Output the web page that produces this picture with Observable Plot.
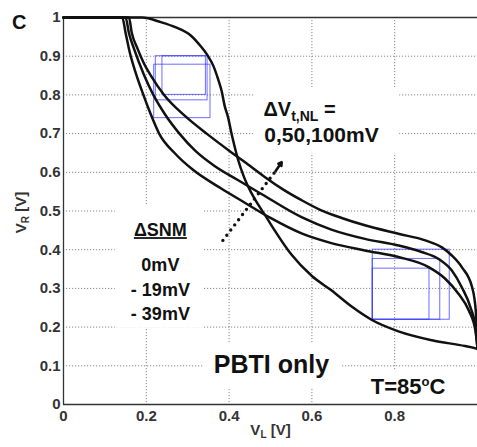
<!DOCTYPE html>
<html><head><meta charset="utf-8">
<script src="https://cdn.jsdelivr.net/npm/d3@7"></script>
<script src="https://cdn.jsdelivr.net/npm/@observablehq/plot@0.6"></script>
<style>body{margin:0;background:#fff} svg{display:block}</style>
</head><body><div id="chart"></div>
<script>
// ---- data ----
const xTicks = [0, 0.2, 0.4, 0.6, 0.8];
const yTicks = [0, 0.1, 0.2, 0.3, 0.4, 0.5, 0.6, 0.7, 0.8, 0.9, 1];
const xGridValues = [0.2, 0.4, 0.6, 0.8];
const yGridValues = [0.1, 0.2, 0.3, 0.4, 0.5, 0.6, 0.7, 0.8, 0.9];

// Reference inverter VTC (V_R vs V_L)
const curveRef = [[0,1],[0.19,1],[0.235,0.988],[0.27,0.975],[0.308,0.953],[0.332,0.925],[0.348,0.902],[0.362,0.875],[0.373,0.842],[0.382,0.81],[0.389,0.773],[0.398,0.74],[0.405,0.704],[0.413,0.668],[0.421,0.635],[0.437,0.585],[0.453,0.548],[0.47,0.517],[0.49,0.484],[0.51,0.45],[0.55,0.388],[0.6,0.332],[0.647,0.295],[0.696,0.253],[0.744,0.219],[0.809,0.189],[0.89,0.166],[0.97,0.151],[1.0,0.144]];
// Mirrored VTCs for dVt,NL = 0, 50, 100 mV
const curveVt0 = [[0,1],[0.142,1],[0.150,0.96],[0.160,0.91],[0.175,0.855],[0.193,0.80],[0.21,0.752],[0.231,0.70],[0.27,0.648],[0.312,0.607],[0.381,0.558],[0.437,0.522],[0.5,0.482],[0.575,0.442],[0.647,0.417],[0.728,0.398],[0.809,0.381],[0.882,0.355],[0.922,0.325],[0.954,0.286],[0.979,0.243],[0.995,0.191],[1.0,0.145]];
const curveVt50 = [[0,1],[0.150,1],[0.158,0.96],[0.170,0.92],[0.195,0.85],[0.217,0.80],[0.245,0.75],[0.28,0.70],[0.318,0.656],[0.364,0.617],[0.421,0.58],[0.478,0.544],[0.575,0.484],[0.647,0.452],[0.728,0.428],[0.809,0.411],[0.865,0.394],[0.906,0.376],[0.938,0.346],[0.962,0.303],[0.983,0.251],[0.995,0.2],[1.0,0.145]];
const curveVt100 = [[0,1],[0.158,1],[0.165,0.96],[0.179,0.919],[0.195,0.88],[0.211,0.85],[0.243,0.80],[0.292,0.747],[0.348,0.698],[0.405,0.652],[0.45,0.617],[0.486,0.588],[0.53,0.556],[0.575,0.528],[0.62,0.503],[0.672,0.482],[0.728,0.463],[0.809,0.441],[0.874,0.424],[0.914,0.406],[0.938,0.385],[0.962,0.355],[0.987,0.303],[0.996,0.24],[1.0,0.145]];

// SNM squares (upper-left lobe and lower-right lobe)
const boxX1 = [0.219, 0.223, 0.239, 0.747, 0.747, 0.747];
const boxX2 = [0.355, 0.348, 0.344, 0.933, 0.910, 0.884];
const boxY1 = [0.740, 0.786, 0.800, 0.219, 0.219, 0.219];
const boxY2 = [0.878, 0.900, 0.900, 0.400, 0.376, 0.351];
const boxes = boxX1.map((x1, i) => ({x1, x2: boxX2[i], y1: boxY1[i], y2: boxY2[i]}));

const snmLabels = ["0mV", "- 19mV", "- 39mV"];

// ---- chart ----
const font = "'Liberation Sans', Arial, Helvetica, sans-serif";
const whiteBox = (x1, x2, y1, y2) => Plot.rect([0], {x1, x2, y1, y2, fill: "white"});

const chart = Plot.plot({
  width: 477, height: 447,
  marginLeft: 63, marginRight: 0, marginTop: 17, marginBottom: 43,
  x: {domain: [0, 1]},
  y: {domain: [0, 1]},
  style: {fontFamily: font, fontWeight: "bold", color: "#222", background: "#fff", overflow: "visible"},
  marks: [
    Plot.gridX(xGridValues, {stroke: "#888", strokeOpacity: 1, strokeDasharray: "1.2,1.8", strokeWidth: 1}),
    Plot.gridY(yGridValues, {stroke: "#888", strokeOpacity: 1, strokeDasharray: "1.2,1.8", strokeWidth: 1}),
    whiteBox(0.125, 0.340, 0.197, 0.515),
    whiteBox(0.461, 0.812, 0.649, 0.819),
    whiteBox(0.338, 0.674, 0.044, 0.158),
    whiteBox(0.729, 0.947, 0.003, 0.088),
    Plot.ruleY([0, 1], {stroke: "#333", strokeWidth: 1.3}),
    Plot.ruleX([0], {stroke: "#333", strokeWidth: 1.3}),
    Plot.axisX(xTicks, {tickSize: 0, tickPadding: 6, fontSize: 15, label: null, tickFormat: d => String(d), fill: "#333"}),
    Plot.axisY(yTicks, {tickSize: 0, tickPadding: 3, fontSize: 15, label: null, tickFormat: d => String(d), fill: "#333"}),
    Plot.rect(boxes, {x1: "x1", x2: "x2", y1: "y1", y2: "y2", fill: "none", stroke: "#3333ff", strokeOpacity: 0.65, strokeWidth: 1.1}),
    Plot.line(curveRef, {stroke: "#111", strokeWidth: 2.5, curve: "monotone-x"}),
    Plot.line(curveVt0, {stroke: "#111", strokeWidth: 2.5, curve: "monotone-x"}),
    Plot.line(curveVt50, {stroke: "#111", strokeWidth: 2.5, curve: "monotone-x"}),
    Plot.line(curveVt100, {stroke: "#111", strokeWidth: 2.5, curve: "monotone-x"}),
    // dotted arrow
    Plot.link([0], {x1: 0.385, y1: 0.424, x2: 0.515, y2: 0.607, stroke: "#111", strokeWidth: 3.4, strokeDasharray: "0,6.5", strokeLinecap: "round"}),
    Plot.arrow([0], {x1: 0.512, y1: 0.603, x2: 0.527, y2: 0.626, stroke: "#111", strokeWidth: 2.6, headLength: 12}),
    // annotations
    Plot.text(["C"], {x: -0.107, y: 0.988, fontSize: 20, textAnchor: "middle", fill: "#111"}),
    Plot.text(["ΔVt,NL ="], {x: 0.483, y: 0.762, fontSize: 20, textAnchor: "start", fill: "#111"}),
    Plot.text(["0,50,100mV"], {x: 0.485, y: 0.695, fontSize: 21, textAnchor: "start", fill: "#111"}),
    Plot.text(["ΔSNM"], {x: 0.234, y: 0.450, fontSize: 18, textAnchor: "middle", fill: "#111"}),
    Plot.text(snmLabels, {x: 0.234, y: (d, i) => 0.359 - i * 0.0625, fontSize: 18, textAnchor: "middle", fill: "#111"}),
    Plot.text(["PBTI only"], {x: 0.363, y: 0.102, fontSize: 25, textAnchor: "start", fill: "#111"}),
    Plot.text(["T=85oC"], {x: 0.742, y: 0.045, fontSize: 22, textAnchor: "start", fill: "#111"}),
    Plot.text(["VR [V]"], {x: -0.101, y: 0.496, rotate: -90, fontSize: 15, textAnchor: "middle", fill: "#333"}),
    Plot.text(["VL [V]"], {x: 0.5, y: -0.067, fontSize: 15, textAnchor: "middle", fill: "#333"})
  ]
});

// rich text (sub/superscripts, underline)
const svg = d3.select(chart);
function rich(content, parts) {
  svg.selectAll("text").filter(function() { return this.textContent === content; }).each(function() {
    const t = d3.select(this);
    t.text(null);
    for (const p of parts) {
      const s = t.append("tspan").text(p.t);
      if (p.size) s.attr("font-size", p.size);
      if (p.dy) s.attr("dy", p.dy);
    }
  });
}
rich("ΔVt,NL =", [{t: "ΔV"}, {t: "t,NL", size: 14, dy: 5}, {t: " =", dy: -5}]);
rich("T=85oC", [{t: "T=85"}, {t: "o", size: 13, dy: -8}, {t: "C", dy: 8}]);
rich("VR [V]", [{t: "V"}, {t: "R", size: 10, dy: 3}, {t: " [V]", dy: -3}]);
rich("VL [V]", [{t: "V"}, {t: "L", size: 10, dy: 3}, {t: " [V]", dy: -3}]);
svg.selectAll("text").filter(function() { return this.textContent === "ΔSNM"; }).style("text-decoration", "underline");

document.getElementById("chart").appendChild(chart);
</script>
</body></html>
